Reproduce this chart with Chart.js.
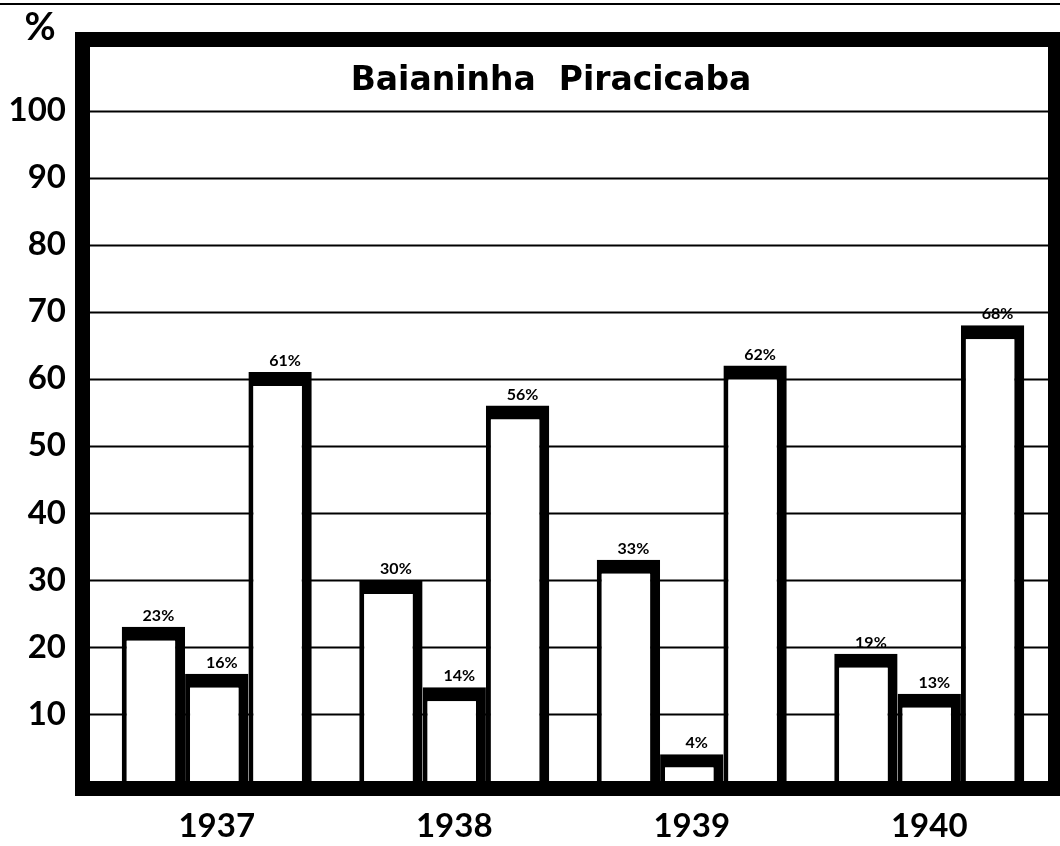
<!DOCTYPE html>
<html>
<head>
<meta charset="utf-8">
<script src="https://cdn.jsdelivr.net/npm/chart.js@4"></script>
<style>
  html, body { margin: 0; padding: 0; background: #fff; }
  #wrap { width: 1060px; height: 846px; }
</style>
</head>
<body>
<div id="wrap"><canvas id="chart" width="1060" height="846"></canvas></div>
<script>
// Baianinha Piracicaba - values as printed over the bars
const years = ['1937', '1938', '1939', '1940'];
const firstBars = [23, 30, 33, 19];
const secondBars = [16, 14, 4, 13];
const thirdBars = [61, 56, 62, 68];
const yTicks = [10, 20, 30, 40, 50, 60, 70, 80, 90, 100];

const FONT = 'Lato, "DejaVu Sans", sans-serif';

// grid lines under the bars, frame and labels over them
const framePlugin = {
    id: 'frame',
    beforeDatasetsDraw(chart) {
        const { ctx, chartArea, scales } = chart;
        const left = chartArea.left - 8;
        ctx.save();
        ctx.strokeStyle = '#000';
        ctx.lineWidth = 2;
        yTicks.forEach(t => {
            const y = Math.round(scales.y.getPixelForValue(t)) + 0.5;
            ctx.beginPath();
            ctx.moveTo(left, y);
            ctx.lineTo(chartArea.right, y);
            ctx.stroke();
        });
        ctx.restore();
    },
    afterDatasetsDraw(chart) {
        const { ctx, chartArea, scales } = chart;
        const left = chartArea.left - 8;
        const bottom = scales.y.getPixelForValue(0);
        const w = 15;
        ctx.save();
        ctx.strokeStyle = '#000';
        ctx.lineWidth = w;
        ctx.strokeRect(left - w / 2, chartArea.top - w / 2,
            chartArea.right - left + w, bottom - chartArea.top + w);

        // page edge line at the very top
        ctx.lineWidth = 2;
        ctx.beginPath();
        ctx.moveTo(0, 4);
        ctx.lineTo(1060, 4);
        ctx.stroke();

        // title inside the frame
        ctx.fillStyle = '#000';
        ctx.textAlign = 'center';
        ctx.textBaseline = 'alphabetic';
        ctx.font = 'bold 33px "DejaVu Sans", sans-serif';
        ctx.fillText('Baianinha  Piracicaba', 551, 90);

        // percent sign above the y axis
        ctx.font = 'bold 38px ' + FONT;
        ctx.fillText('%', 40, 40);

        // value labels over each bar
        ctx.font = 'bold 16px ' + FONT;
        ctx.textBaseline = 'bottom';
        chart.data.datasets.forEach((ds, i) => {
            chart.getDatasetMeta(i).data.forEach((bar, j) => {
                ctx.fillText(ds.data[j] + '%', bar.x + 5, bar.y - 3);
            });
        });
        ctx.restore();
    }
};

const barStyle = {
    backgroundColor: '#fff',
    borderColor: '#000',
    borderWidth: { left: 5, top: 14, right: 10, bottom: 0 },
    borderSkipped: false,
    categoryPercentage: 0.8,
    barPercentage: 1.0
};

new Chart(document.getElementById('chart'), {
    type: 'bar',
    data: {
        labels: years,
        datasets: [
            { label: 'a', data: firstBars, ...barStyle },
            { label: 'b', data: secondBars, ...barStyle },
            { label: 'c', data: thirdBars, ...barStyle }
        ]
    },
    options: {
        responsive: false,
        animation: false,
        layout: { padding: { top: 47, right: 12, left: 0, bottom: 0 } },
        plugins: {
            legend: { display: false },
            tooltip: { enabled: false },
            title: { display: false }
        },
        scales: {
            x: {
                grid: { display: false },
                border: { display: false },
                ticks: {
                    color: '#000',
                    padding: 18,
                    font: { family: FONT, size: 33, weight: 'bold' }
                },
                afterFit(scale) { scale.height = 65; }
            },
            y: {
                min: 0,
                max: 109.5,
                grid: { display: false },
                border: { display: false },
                ticks: {
                    stepSize: 10,
                    color: '#000',
                    padding: 24,
                    font: { family: FONT, size: 33, weight: 'bold' },
                    callback: v => yTicks.includes(v) ? String(v) : ''
                },
                afterFit(scale) { scale.width = 98; }
            }
        }
    },
    plugins: [framePlugin]
});
</script>
</body>
</html>
